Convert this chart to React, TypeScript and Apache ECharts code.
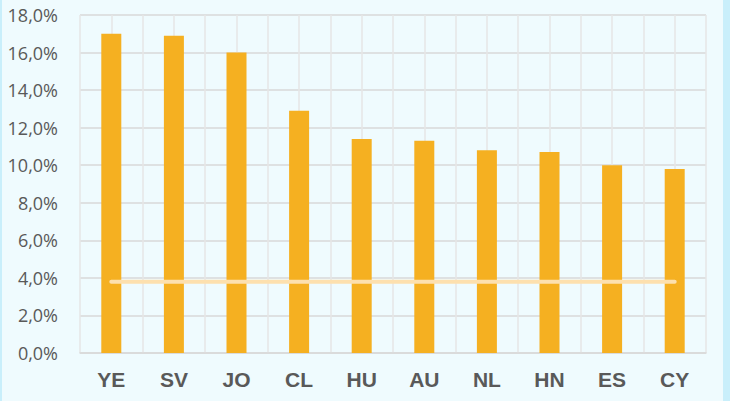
import React, { useEffect, useRef } from "react";
import * as echarts from "echarts";

const categories = ["YE", "SV", "JO", "CL", "HU", "AU", "NL", "HN", "ES", "CY"];
const barValues = [17.0, 16.9, 16.0, 12.9, 11.4, 11.3, 10.8, 10.7, 10.0, 9.8];
const refValue = 3.8;
const refValues = categories.map(() => refValue);
const halfSlots = Array.from({ length: categories.length * 2 }, (_, i) => String(i));

export default function App() {
  const ref = useRef<HTMLDivElement>(null);
  useEffect(() => {
    document.body.style.margin = "0";
    const chart = echarts.init(ref.current!, null, { renderer: "svg" });
    chart.setOption({
      animation: false,
      backgroundColor: "#effbfe",
      graphic: [
        { type: "rect", left: 0, top: 0, shape: { width: 2, height: 401 }, style: { fill: "#c9effb" } },
        { type: "rect", right: 0, top: 0, shape: { width: 7, height: 401 }, style: { fill: "#c9effb" } },
      ],
      grid: { left: 80, right: 24, top: 15, bottom: 48 },
      xAxis: [
        {
          type: "category",
          data: categories,
          axisLine: { show: true, lineStyle: { color: "#d9d9d9", width: 1.5 } },
          axisTick: { show: false },
          splitLine: { show: false },
          axisLabel: {
            color: "#595959",
            fontSize: 21,
            fontWeight: "bold",
            fontFamily: "Liberation Sans",
            margin: 16,
          },
        },
        {
          type: "category",
          data: halfSlots,
          position: "bottom",
          axisLine: { show: false },
          axisTick: { show: false },
          axisLabel: { show: false },
          splitLine: { show: true, interval: 0, lineStyle: { color: "#e6e6e6", width: 1.5 } },
        },
      ],
      yAxis: {
        type: "value",
        min: 0,
        max: 18,
        interval: 2,
        axisLine: { show: false },
        axisTick: { show: false },
        splitLine: { lineStyle: { color: "#d9d9d9", width: 1.5 } },
        axisLabel: {
          color: "#595959",
          fontSize: 18,
          fontFamily: "Open Sans",
          margin: 22,
          formatter: (v: number) => v.toFixed(1).replace(".", ",") + "%",
        },
      },
      series: [
        {
          type: "bar",
          data: barValues,
          barWidth: 20,
          itemStyle: { color: "#f5b021" },
          z: 2,
        },
        {
          type: "line",
          data: refValues,
          symbol: "none",
          lineStyle: { color: "#fde0ae", width: 4, cap: "round" },
          z: 3,
        },
      ],
    });
    return () => chart.dispose();
  }, []);
  return <div ref={ref} style={{ width: 730, height: 401 }} />;
}
